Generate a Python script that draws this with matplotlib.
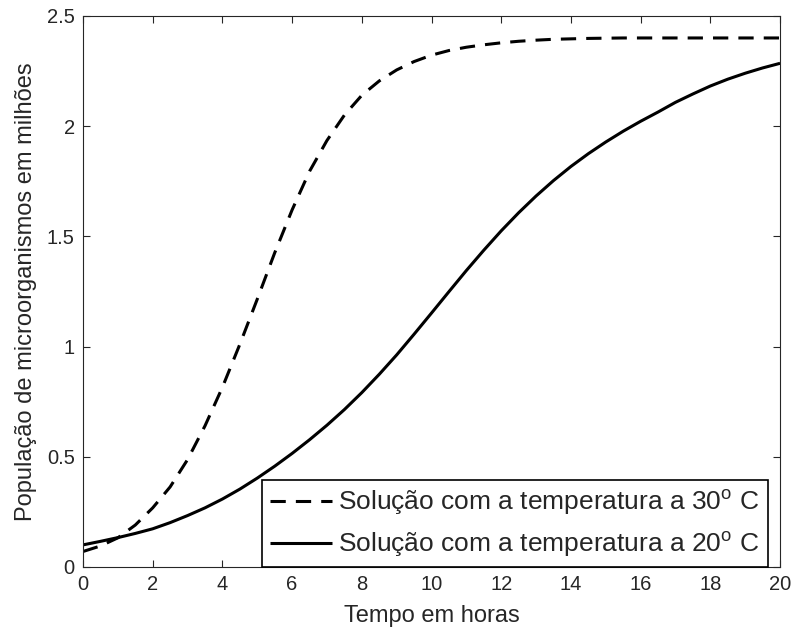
import matplotlib
matplotlib.use('Agg')
import matplotlib.pyplot as plt

# Tempo (horas) e população (milhões)
tempo = [0, 0.5, 1, 1.5, 2, 2.5, 3, 3.5, 4, 4.5, 5, 5.5, 6, 6.5, 7, 7.5, 8, 8.5, 9, 9.5,
         10, 10.5, 11, 11.5, 12, 12.5, 13, 13.5, 14, 14.5, 15, 15.5, 16, 16.5, 17, 17.5,
         18, 18.5, 19, 19.5, 20]

pop_30 = [0.07, 0.095, 0.132, 0.19, 0.268, 0.363, 0.487, 0.64, 0.815, 1.01, 1.215, 1.425,
          1.62, 1.795, 1.935, 2.05, 2.14, 2.205, 2.255, 2.293, 2.322, 2.343, 2.358, 2.369,
          2.378, 2.385, 2.39, 2.394, 2.396, 2.398, 2.399, 2.40, 2.40, 2.40, 2.40, 2.40,
          2.40, 2.40, 2.40, 2.40, 2.40]

pop_20 = [0.100, 0.116, 0.133, 0.152, 0.173, 0.201, 0.233, 0.268, 0.308, 0.353, 0.403,
          0.457, 0.515, 0.577, 0.643, 0.714, 0.791, 0.874, 0.962, 1.056, 1.152, 1.249,
          1.345, 1.437, 1.525, 1.607, 1.683, 1.753, 1.817, 1.875, 1.928, 1.977, 2.022,
          2.064, 2.108, 2.146, 2.182, 2.213, 2.24, 2.264, 2.285]

x_ticks = [0, 2, 4, 6, 8, 10, 12, 14, 16, 18, 20]
y_ticks = [0, 0.5, 1, 1.5, 2, 2.5]
y_tick_labels = ['0', '0.5', '1', '1.5', '2', '2.5']

plt.rcParams['font.family'] = ['Liberation Sans', 'DejaVu Sans']
plt.rcParams['mathtext.fontset'] = 'custom'
plt.rcParams['mathtext.rm'] = 'Liberation Sans'

TXT = '#262626'

fig = plt.figure(figsize=(7.95, 6.37), dpi=100)
ax = fig.add_axes([0.1044, 0.110, 0.8768, 0.865])

ax.plot(tempo, pop_30, color='black', lw=2.2, dashes=(5, 3.3),
        label=r'Solução com a temperatura a 30$^{\mathrm{o}}$ C')
ax.plot(tempo, pop_20, color='black', lw=2.2, solid_capstyle='butt',
        label=r'Solução com a temperatura a 20$^{\mathrm{o}}$ C')

ax.set_xlim(0, 20)
ax.set_ylim(0, 2.5)
ax.set_xticks(x_ticks)
ax.set_yticks(y_ticks)
ax.set_yticklabels(y_tick_labels)

ax.tick_params(direction='in', length=5, width=0.8, colors=TXT, labelsize=14.5,
               top=True, right=True, labeltop=False, labelright=False, pad=6)
for s in ax.spines.values():
    s.set_color(TXT)
    s.set_linewidth(0.8)

ax.set_xlabel('Tempo em horas', fontsize=17, color=TXT, labelpad=8)
ax.set_ylabel('População de microorganismos em milhões', fontsize=17, color=TXT, labelpad=7)

leg = ax.legend(loc='lower right', bbox_to_anchor=(0.982, 0.0), borderaxespad=0,
                fontsize=19, frameon=True, fancybox=False, framealpha=1,
                handlelength=2.35, handletextpad=0.25, borderpad=0.3, labelspacing=0.45)
leg.get_frame().set_edgecolor('black')
leg.get_frame().set_linewidth(1.2)
for t in leg.get_texts():
    t.set_color(TXT)

fig.savefig('out.png', dpi=100, facecolor='white')
